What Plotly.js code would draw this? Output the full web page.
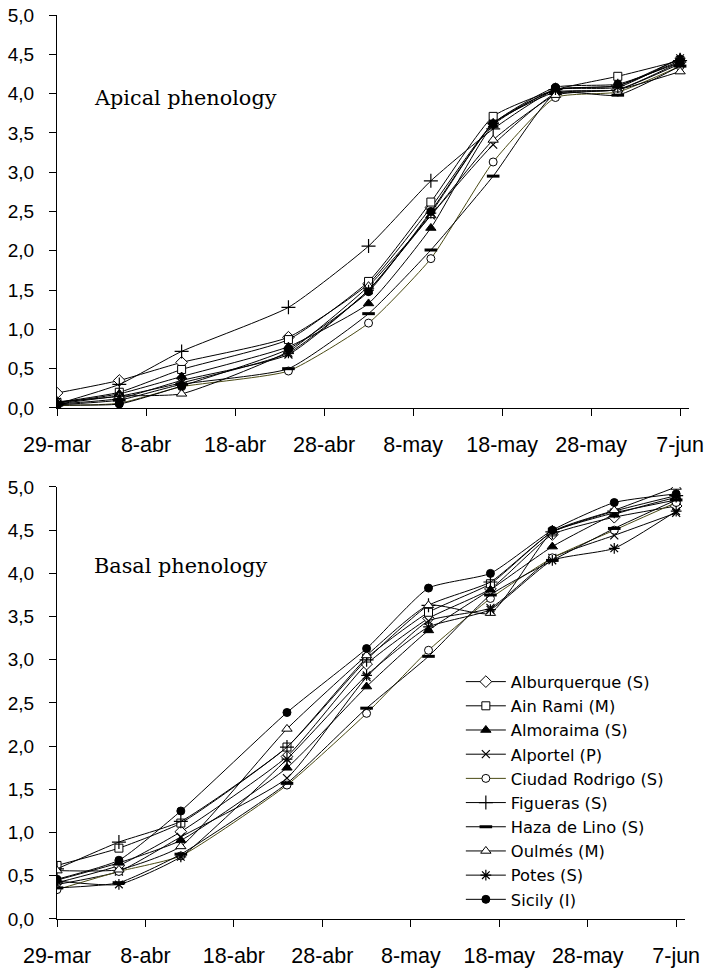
<!DOCTYPE html>
<html>
<head>
<meta charset="utf-8">
<script src="https://cdn.plot.ly/plotly-3.0.1.min.js"></script>
<style>html,body{margin:0;padding:0;background:#fff;}#chart{width:709px;height:969px;}</style>
</head>
<body>
<div id="chart"></div>
<script>
// Sampling dates
const dates = ['2005-03-29','2005-04-05','2005-04-12','2005-04-24','2005-05-03','2005-05-10','2005-05-17','2005-05-24','2005-05-31','2005-06-07'];
const tickDates = ['2005-03-29','2005-04-08','2005-04-18','2005-04-28','2005-05-08','2005-05-18','2005-05-28','2005-06-07'];
const tickLabels = ['29-mar','8-abr','18-abr','28-abr','8-may','18-may','28-may','7-jun'];

const populations = ['Alburquerque (S)','Ain Rami (M)','Almoraima (S)','Alportel (P)','Ciudad Rodrigo (S)','Figueras (S)','Haza de Lino (S)','Oulmés (M)','Potes (S)','Sicily (I)'];

// Apical phenology
const apicalAlburquerque  = [0.19,0.35,0.58,0.90,1.58,2.55,3.62,4.02,4.05,4.40];
const apicalAinRami       = [0.07,0.20,0.49,0.87,1.61,2.62,3.71,4.05,4.22,4.42];
const apicalAlmoraima     = [0.06,0.18,0.40,0.78,1.33,2.29,3.60,4.05,4.10,4.45];
const apicalAlportel      = [0.05,0.12,0.35,0.68,1.50,2.45,3.35,4.00,4.05,4.38];
const apicalCiudadRodrigo = [0.03,0.06,0.27,0.47,1.08,1.90,3.13,3.95,4.02,4.35];
const apicalFigueras      = [0.05,0.30,0.72,1.28,2.06,2.89,3.55,4.05,4.10,4.42];
const apicalHazaDeLino    = [0.04,0.10,0.30,0.50,1.20,2.01,2.95,4.00,3.98,4.35];
const apicalOulmes        = [0.05,0.15,0.18,0.72,1.55,2.45,3.41,3.98,4.05,4.28];
const apicalPotes         = [0.08,0.15,0.32,0.70,1.50,2.48,3.62,4.05,4.08,4.45];
const apicalSicily        = [0.04,0.05,0.28,0.75,1.48,2.50,3.62,4.08,4.12,4.40];

// Basal phenology
const basalAlburquerque  = [0.42,0.62,1.01,1.88,2.95,3.48,3.82,4.45,4.65,4.78];
const basalAinRami       = [0.62,0.82,1.11,1.99,3.02,3.55,3.88,4.48,4.70,4.85];
const basalAlmoraima     = [0.45,0.65,0.91,1.75,2.69,3.34,3.81,4.31,4.68,4.88];
const basalAlportel      = [0.40,0.55,0.95,1.63,2.80,3.45,3.60,4.18,4.44,4.70];
const basalCiudadRodrigo = [0.34,0.55,0.73,1.55,2.38,3.11,3.71,4.18,4.50,4.82];
const basalFigueras      = [0.58,0.89,1.13,1.99,3.00,3.63,3.90,4.48,4.72,4.90];
const basalHazaDeLino    = [0.36,0.42,0.75,1.57,2.44,3.04,3.75,4.15,4.52,4.85];
const basalOulmes        = [0.56,0.57,0.84,2.20,3.05,3.63,3.54,4.48,4.73,5.00];
const basalPotes         = [0.44,0.40,0.72,1.85,2.82,3.38,3.58,4.15,4.29,4.72];
const basalSicily        = [0.46,0.68,1.25,2.39,3.13,3.83,4.00,4.50,4.82,4.92];

const apical = [apicalAlburquerque,apicalAinRami,apicalAlmoraima,apicalAlportel,apicalCiudadRodrigo,apicalFigueras,apicalHazaDeLino,apicalOulmes,apicalPotes,apicalSicily];
const basal  = [basalAlburquerque,basalAinRami,basalAlmoraima,basalAlportel,basalCiudadRodrigo,basalFigueras,basalHazaDeLino,basalOulmes,basalPotes,basalSicily];

// marker styles
const styles = [
  {symbol:'diamond', color:'#ffffff', lc:'#000', lw:1, size:9},
  {symbol:'square', color:'#ffffff', lc:'#000', lw:1, size:8},
  {symbol:'triangle-up', color:'#000', lc:'#000', lw:1, size:9},
  {symbol:'x-thin-open', color:'#000', lc:'#000', lw:1.2, size:8},
  {symbol:'circle', color:'#ffffff', lc:'#000', lw:1, size:8},
  {symbol:'cross-thin-open', color:'#000', lc:'#000', lw:1.2, size:10},
  {symbol:'line-ew-open', color:'#000', lc:'#000', lw:3, size:9},
  {symbol:'triangle-up', color:'#ffffff', lc:'#000', lw:1, size:9},
  {symbol:'asterisk-open', color:'#000', lc:'#000', lw:1.2, size:9},
  {symbol:'circle', color:'#000', lc:'#000', lw:1, size:8}
];
const lineColors = ['#000','#000','#000','#000','#4a4a14','#000','#000','#000','#000','#000'];

const traces = [];
function addPanel(data, xa, ya, show){
  data.forEach((vals,i)=>{
    const s = styles[i];
    traces.push({
      type:'scatter', mode:'lines+markers',
      x: dates, y: vals, xaxis: xa, yaxis: ya,
      name: populations[i], showlegend: show,
      line:{color: lineColors[i], width:1, shape:'spline', smoothing:0.5},
      marker:{symbol:s.symbol, size:s.size, color:s.color, line:{color:s.lc, width:s.lw}}
    });
  });
}
addPanel(apical,'x','y',false);
addPanel(basal,'x2','y2',true);

const xFont = {family:"'Liberation Sans', Arial, sans-serif", size:21.5, color:'#000'};
const yFont = {family:"'Liberation Sans', Arial, sans-serif", size:19, color:'#000'};
function xax(domain){
  return {domain:domain, type:'date', range:['2005-03-29','2005-06-08'], tickvals:tickDates, ticktext:tickLabels,
    ticks:'outside', ticklen:7, tickcolor:'#000', showline:true, linecolor:'#000', linewidth:1,
    showgrid:false, zeroline:false, tickfont:xFont, ticklabelstandoff:10, fixedrange:true};
}
function yax(domain, anchor){
  return {domain:domain, anchor:anchor, range:[0,5], dtick:0.5, tick0:0, tickformat:'.1f',
    ticks:'outside', ticklen:7, tickcolor:'#000', showline:true, linecolor:'#000', linewidth:1,
    showgrid:false, zeroline:false, tickfont:yFont, ticklabelstandoff:11, fixedrange:true};
}

const x1 = xax([0,1]); x1.anchor='y';
const x2 = xax([0,0.9937]); x2.anchor='y2';

const layout = {
  width:709, height:969,
  margin:{l:57, r:20, t:15, b:50},
  paper_bgcolor:'#fff', plot_bgcolor:'#fff',
  separators:',.',
  xaxis:x1, yaxis:yax([0.5653,1],'x'),
  xaxis2:x2, yaxis2:yax([0,0.4779],'x2'),
  showlegend:true,
  legend:{x:0.639, y:0.2815, xanchor:'left', yanchor:'top', xref:'paper', yref:'paper',
    bgcolor:'rgba(0,0,0,0)', font:{family:"'DejaVu Sans', sans-serif", size:16.3, color:'#000'},
    tracegroupgap:0, itemwidth:40},
  annotations:[
    {xref:'paper', yref:'paper', x:0.055, y:0.908, xanchor:'left', yanchor:'middle', showarrow:false,
     text:'Apical phenology', font:{family:"'DejaVu Serif', serif", size:20.8, color:'#000'}},
    {xref:'paper', yref:'paper', x:0.055, y:0.3905, xanchor:'left', yanchor:'middle', showarrow:false,
     text:'Basal phenology', font:{family:"'DejaVu Serif', serif", size:20.8, color:'#000'}}
  ]
};

Plotly.newPlot('chart', traces, layout, {displayModeBar:false, staticPlot:true});
</script>
</body>
</html>
